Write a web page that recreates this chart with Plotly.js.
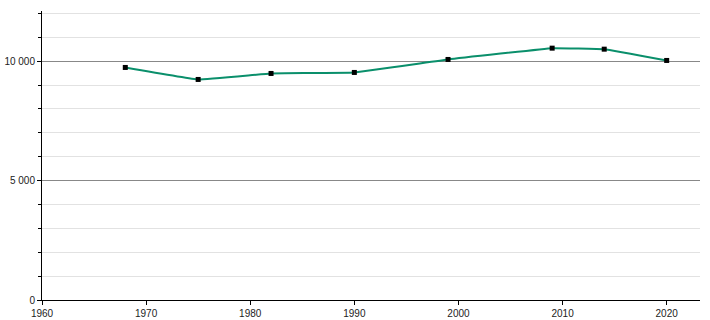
<!DOCTYPE html>
<html><head><meta charset="utf-8">
<script src="https://cdn.plot.ly/plotly-3.0.1.min.js"></script>
<style>html,body{margin:0;padding:0;background:#fff}#c{width:710px;height:320px}</style>
</head><body><div id="c"></div>
<script>
const years = [1968, 1975, 1982, 1990, 1999, 2009, 2014, 2020];
const population = [9736, 9234, 9485, 9527, 10071, 10544, 10502, 10029];

const trace = {
  x: years, y: population, type: 'scatter', mode: 'lines+markers',
  line: {color: '#0a8f6b', width: 2, shape: 'spline', smoothing: 0.2},
  marker: {color: '#000', symbol: 'square', size: 5}
};
const layout = {
  width: 710, height: 320,
  margin: {l: 42, r: 10, t: 11, b: 20},
  paper_bgcolor: '#fff', plot_bgcolor: '#fff',
  font: {family: 'Liberation Sans, Arial, sans-serif', size: 10, color: '#222'},
  separators: '. ',
  showlegend: false,
  xaxis: {
    range: [1960, 2023.2], dtick: 10, tick0: 1960, showgrid: false, zeroline: false,
    showline: true, linecolor: '#000', linewidth: 1, ticks: 'outside', ticklen: 4, tickcolor: '#000'
  },
  yaxis: {
    range: [0, 12100], dtick: 5000, tickformat: ',d', showgrid: true, gridcolor: '#888',
    zeroline: false, showline: true, linecolor: '#000', linewidth: 1,
    ticks: 'outside', ticklen: 4, tickcolor: '#000',
    minor: {dtick: 1000, showgrid: true, gridcolor: '#e2e2e2', ticks: 'outside', ticklen: 3, tickcolor: '#000'}
  }
};
Plotly.newPlot('c', [trace], layout, {displayModeBar: false, staticPlot: true});
</script></body></html>
